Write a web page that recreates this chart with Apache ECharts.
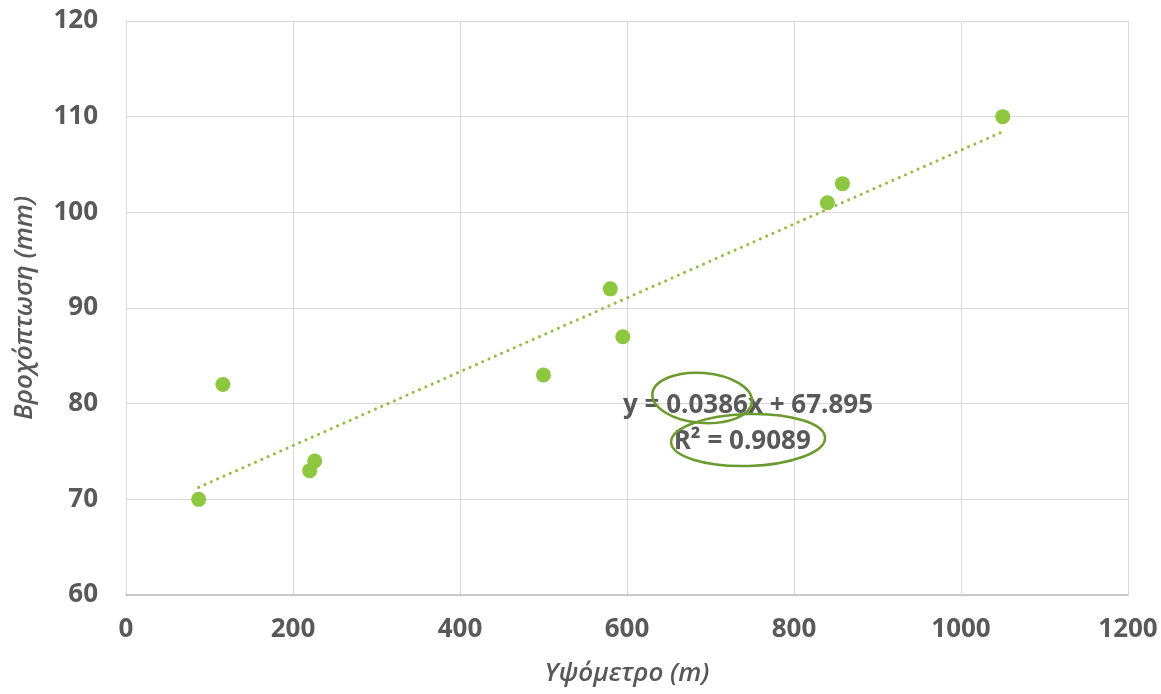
<!DOCTYPE html>
<html>
<head>
<meta charset="utf-8">
<script src="https://cdn.jsdelivr.net/npm/echarts@6/dist/echarts.min.js"></script>
<style>html,body{margin:0;padding:0;background:#fff}#c{width:1161px;height:694px}</style>
</head>
<body>
<div id="c"></div>
<script>
const altitude = [87, 116, 220, 226, 500, 580, 595, 840, 858, 1050];
const rainfall = [70, 82, 73, 74, 83, 92, 87, 101, 103, 110];
const slope = 0.0386;
const intercept = 67.895;
const trendRange = [87, 1050];
const xTicks = [0, 200, 400, 600, 800, 1000, 1200];
const yTicks = [60, 70, 80, 90, 100, 110, 120];
const eqText = 'y = 0.0386x + 67.895';
const r2Text = 'R² = 0.9089';

const chart = echarts.init(document.getElementById('c'));
const labelStyle = {color:'#595959', fontSize:26, fontWeight:'bold', fontFamily:'Open Sans'};
const nameStyle = {color:'#595959', fontSize:26, fontStyle:'italic', fontWeight:600, fontFamily:'Open Sans'};
chart.setOption({
  animation:false,
  grid:{left:126, right:33, top:21, bottom:99, outerBoundsMode:'none', containLabel:false},
  xAxis:{type:'value', min:xTicks[0], max:xTicks[xTicks.length-1], interval:200,
    name:'Υψόμετρο (m)', nameLocation:'middle', nameGap:66, nameTextStyle:nameStyle,
    axisLine:{show:true, lineStyle:{color:'#BFBFBF', width:1.5}}, axisTick:{show:false},
    axisLabel:Object.assign({margin:22, formatter:v=>String(v)}, labelStyle),
    splitLine:{show:true, lineStyle:{color:'#D9D9D9', width:1}}},
  yAxis:{type:'value', min:yTicks[0], max:yTicks[yTicks.length-1], interval:10,
    name:'Βροχόπτωση (mm)', nameLocation:'middle', nameGap:88, nameTextStyle:nameStyle,
    axisLine:{show:false}, axisTick:{show:false},
    axisLabel:Object.assign({margin:28, formatter:v=>String(v)}, labelStyle),
    splitLine:{show:true, lineStyle:{color:'#D9D9D9', width:1}}},
  series:[
    {type:'line', data:trendRange.map(x=>[x, slope*x+intercept]), symbol:'none',
      lineStyle:{color:'#93BE45', width:3, type:[0.1,6.8], cap:'round'}, silent:true, z:1},
    {type:'scatter', data:altitude.map((x,i)=>[x, rainfall[i]]), symbolSize:15,
      itemStyle:{color:'#8DC63F', opacity:1}, z:2}
  ]
});

function px(x,y){return chart.convertToPixel({gridIndex:0},[x,y]);}
const eqPos = px(745, 79.8);
const r2Pos = px(738, 76.0);
const e1 = px(690, 80.6);
const e2 = px(745, 76.2);
chart.setOption({graphic:[
  {type:'text', x:eqPos[0], y:eqPos[1], style:{text:eqText, x:0, y:0, align:'center', verticalAlign:'middle',
    fill:'#595959', font:'bold 26px "Open Sans"'}, z:10},
  {type:'text', x:r2Pos[0], y:r2Pos[1], style:{text:r2Text, x:0, y:0, align:'center', verticalAlign:'middle',
    fill:'#595959', font:'bold 26px "Open Sans"'}, z:10},
  {type:'ellipse', x:e1[0], y:e1[1], rotation:-0.08, shape:{cx:0, cy:0, rx:50, ry:25},
    style:{fill:null, stroke:'#6C9A2E', lineWidth:2.5}, z:11},
  {type:'ellipse', x:e2[0], y:e2[1], rotation:0.03, shape:{cx:0, cy:0, rx:77, ry:26},
    style:{fill:null, stroke:'#6C9A2E', lineWidth:2.5}, z:11}
]});
</script>
</body>
</html>
